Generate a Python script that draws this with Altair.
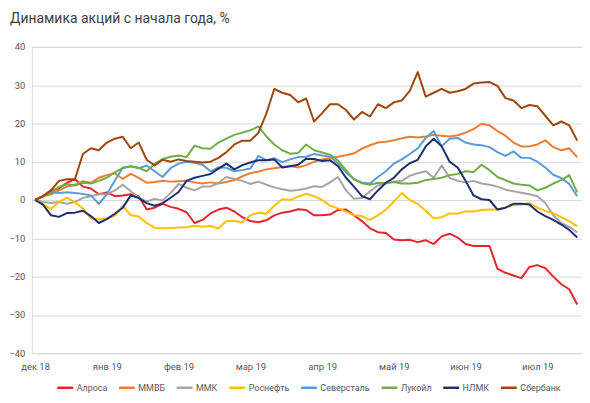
import json
import altair as alt
import pandas as pd

title_text = "Динамика акций с начала года, %"
series_names = ["Алроса", "ММВБ", "ММК", "Роснефть", "Северсталь", "Лукойл", "НЛМК", "Сбербанк"]
series_colors = ["#E3262D", "#ED7D31", "#A5A5A5", "#FFC000", "#5B9BD5", "#70AD47", "#1F2F6E", "#9E480E"]
month_labels = ["дек 18", "янв 19", "фев 19", "мар 19", "апр 19", "май 19", "июн 19", "июл 19"]
points_per_month = 9

alrosa = [0, 1, 2.5, 3, 4.5, 5.5, 3.5, 3, 1.5, 2, 1, 1.2, 1.5, 1, -2.5, -2, -1, -1.8, -2.3, -3.2,
          -6, -5.2, -3.5, -2.5, -2, -3, -4.5, -5.5, -5.8, -5.3, -4, -3.3, -3, -2.4, -2.6, -4, -4, -3.8, -2.6, -2.5,
          -4, -5.5, -7.4, -8.4, -8.6, -10.3, -10.5, -10.4, -11, -10.5, -11.5, -9.5, -8.8, -9.8, -11.5, -12, -12, -12, -18, -19,
          -19.7, -20.4, -17.5, -17, -17.8, -20, -22, -23.3, -27.3]
mmvb = [0, 1, 1.5, 2.5, 3.5, 4, 4.9, 4.5, 5.8, 6.5, 7, 5.5, 6.8, 5.8, 4.5, 4.7, 5, 4.8, 4.9, 5,
        4.6, 4.3, 4.6, 4.3, 4.7, 5.2, 6.2, 7, 7.4, 8, 8.3, 8.6, 8.9, 8.5, 9.1, 10, 10.6, 11, 11.3, 11.7,
        12.2, 13.4, 14.3, 15, 15.2, 15.6, 16.1, 16.5, 16.3, 16.6, 17, 16.8, 16.6, 16.9, 17.6, 18.5, 19.9, 19.5, 18, 16.8,
        15, 14, 14, 14.5, 15.6, 13.8, 13, 13.5, 11.2]
mmk = [0, -0.5, -0.8, -0.5, -1, -0.5, 0.5, 1, 1.5, 1.5, 2.5, 4, 2.3, 0.6, -0.4, 0.3, -0.1, 1.8, 4.2, 3.2,
       2.5, 3.5, 3.5, 4.5, 6, 5.5, 5, 4.2, 4.8, 4, 3.3, 2.8, 2.4, 2.6, 3, 3.6, 3.4, 4.6, 6, 2.5,
       0.3, 0.5, 2.2, 3.8, 4.3, 4.8, 5, 6.3, 7, 7.5, 5.8, 9, 5.8, 5, 4.6, 5, 4.3, 4, 3.5, 2.7,
       2.3, 1.9, 1.5, 1, -0.8, -4, -6, -7, -8.5]
rosneft = [0, -1.2, -2.3, -0.5, 0.6, -0.6, -2.2, -4.8, -5, -4.8, -4.1, -1.5, -4, -4.3, -6, -7.3, -7.4, -7.3, -7.2, -7.1,
           -6.7, -7, -6.8, -7.4, -5.5, -5.5, -5.8, -4, -3.3, -3.6, -1.5, 0.2, 0, 0.9, 1.6, 1, 0, -1.5, -2.2, -3,
           -4, -4.2, -5.2, -4, -2.5, -0.4, 1.8, 0, -1, -2.8, -4.8, -4.5, -3.5, -3.5, -3, -3, -2.6, -2.5, -2.5, -2,
           -1.4, -1.2, -0.8, -2, -2.9, -3.4, -4.5, -5.6, -6.8]
severstal = [0, 1, 2, 1.8, 2, 1.8, 1.6, 1.2, -1, 1.5, 5, 8.5, 8.8, 8.3, 9, 7.5, 6, 8.3, 9.5, 10,
             9.7, 9.2, 7.5, 8.5, 8.4, 7.5, 7.8, 8.2, 11.5, 10.4, 10.9, 9.9, 10.6, 11.2, 11.3, 12, 11.6, 11.3, 9.5, 7.2,
             5.5, 4.5, 4.3, 6, 7.5, 9.5, 10.6, 12, 13.5, 16.2, 18, 14, 16, 16.2, 15, 14.5, 14.3, 13.8, 12.5, 11.5,
             12.7, 11, 11, 10, 8.5, 6.6, 5.7, 4.2, 1]
lukoil = [0, 0.9, 2, 3.4, 4.1, 3.8, 4.5, 4.3, 5, 5.8, 7.2, 8.3, 8.8, 8.4, 7.5, 9.5, 10.7, 11.3, 11.6, 11.2,
          14.2, 13.5, 13.4, 15, 16, 17, 17.6, 18.2, 19.2, 16.6, 14.5, 13, 12.1, 12.3, 14.5, 13, 12.4, 11.8, 10.3, 7.8,
          5.3, 4.4, 4, 4.5, 4.4, 4.7, 4.3, 4.3, 4.5, 5.2, 5.5, 5.8, 6.5, 6.8, 7.5, 7.3, 9.2, 7.8, 6, 5.2,
          4.3, 4, 3.8, 2.5, 3.2, 4.3, 5.2, 6.5, 2]
nlmk = [0, -1.2, -4, -4.4, -3.4, -3.3, -2.8, -4.2, -6, -5, -3.6, -2, 1.2, 0.5, -0.8, -1.5, -0.8, 0.6, 2.1, 5,
        5.8, 6.3, 6.8, 8.2, 9.5, 8, 9.1, 9.8, 10.4, 10.4, 10.6, 8.5, 8.8, 9.2, 10.8, 10.7, 10.2, 10.4, 8.8, 5.8,
        3.5, 1, 0.2, 2.5, 4.5, 5.8, 8, 9.6, 10.5, 14, 16, 14, 10, 8.5, 5, 1.2, 0.2, 0, -2.5, -2,
        -1, -1, -1.2, -3, -4.2, -5.2, -6.4, -7.8, -9.8]
sber = [0, 1, 2.5, 5, 5.4, 5.4, 12, 13.5, 13, 15, 16, 16.5, 13.5, 15, 10.5, 9, 10.5, 10, 10.6, 10.2,
        10, 9.8, 10, 11, 12.5, 14.5, 15.5, 15.5, 17.5, 22.5, 29, 28, 27.4, 25.5, 26.5, 20.5, 22.7, 25, 25, 23.5,
        21, 23, 21.8, 25, 24, 25.5, 26, 28.5, 33.4, 27, 28, 29, 28, 28.4, 29, 30.4, 30.7, 30.8, 29.8, 26.6,
        26, 24, 24.8, 24.5, 22, 19.5, 20.5, 19.5, 15.5]

all_series = [alrosa, mmvb, mmk, rosneft, severstal, lukoil, nlmk, sber]

rows = []
for order, (name, vals) in enumerate(zip(series_names, all_series)):
    for i, v in enumerate(vals):
        rows.append({"series": name, "order": order, "day": i, "value": v})
df = pd.DataFrame(rows)

tick_vals = [k * points_per_month for k in range(len(month_labels))]
label_expr = json.dumps(month_labels, ensure_ascii=False) + "[round(datum.value / %d)]" % points_per_month

FONT = "Roboto"
GRAY_TEXT = "#595959"

lines = alt.Chart(df).mark_line(strokeWidth=2, strokeJoin="round").encode(
    x=alt.X("day:Q",
            scale=alt.Scale(domain=[-0.4, 68.6], nice=False, zero=False),
            axis=alt.Axis(values=tick_vals, labelExpr=label_expr, grid=False, ticks=False,
                          domain=False, labelPadding=8, labelFontSize=9.5, labelColor=GRAY_TEXT,
                          labelFont=FONT, title=None, labelOverlap=False)),
    y=alt.Y("value:Q",
            scale=alt.Scale(domain=[-40, 40], nice=False),
            axis=alt.Axis(values=list(range(-40, 41, 10)), grid=True, gridColor="#D9D9D9",
                          gridWidth=1, ticks=False, domain=False, labelPadding=7,
                          labelFontSize=9.5, labelColor=GRAY_TEXT, labelFont=FONT, title=None)),
    color=alt.Color("series:N",
                    scale=alt.Scale(domain=series_names, range=series_colors),
                    sort=series_names,
                    legend=alt.Legend(orient="none", legendX=24, legendY=333, direction="horizontal",
                                      symbolType="stroke", symbolStrokeWidth=2.5, symbolSize=256,
                                      labelFontSize=9, labelColor=GRAY_TEXT, labelFont=FONT,
                                      labelOffset=2, columnPadding=6, title=None, padding=0)),
    order=alt.Order("order:Q"),
)

title_mark = alt.Chart(pd.DataFrame({"t": [title_text]})).mark_text(
    align="left", baseline="alphabetic", fontSize=14, font=FONT, color="#404040"
).encode(
    x=alt.value(-22),
    y=alt.value(-24),
    text="t:N",
)

chart = alt.layer(lines, title_mark).properties(
    width=553,
    height=308,
    padding={"left": 24, "top": 38, "right": 0, "bottom": 40},
    autosize=alt.AutoSizeParams(type="none"),
).configure_view(stroke=None).configure(background="white")

chart.save("out.html", embed_options={"renderer": "svg", "actions": False})
